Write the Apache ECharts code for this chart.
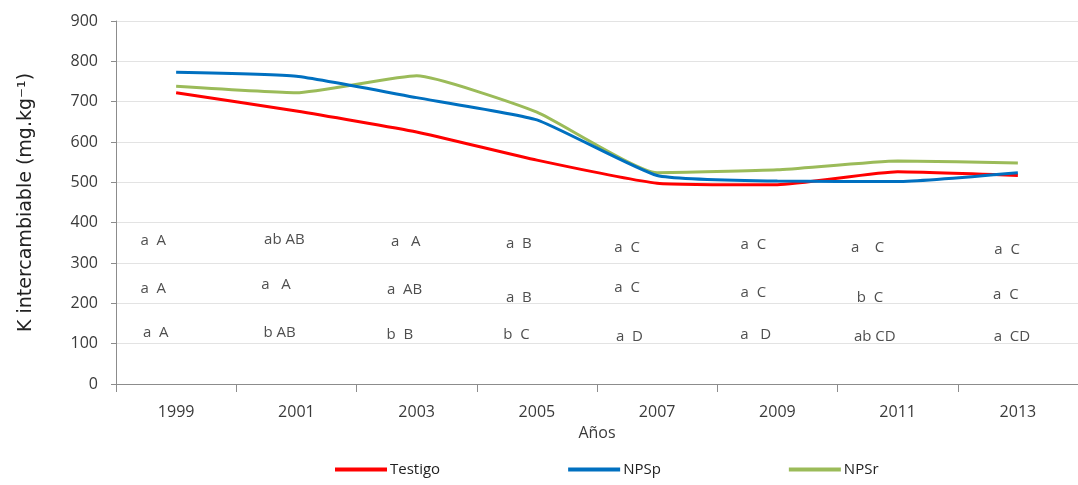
<!DOCTYPE html>
<html>
<head>
<meta charset="utf-8">
<script src="https://cdn.jsdelivr.net/npm/echarts@6/dist/echarts.min.js"></script>
<style>html,body{margin:0;padding:0;background:#fff;}#c{width:1078px;height:485px;}</style>
</head>
<body>
<div id="c"></div>
<script>
const years = ['1999','2001','2003','2005','2007','2009','2011','2013'];
const testigo = [722, 677, 625, 555, 498, 494, 526, 517];
const npsp    = [773, 763, 710, 655, 517, 503, 502, 524];
const npsr    = [738, 722, 764, 674, 524, 531, 553, 548];
const yTicks  = [0, 100, 200, 300, 400, 500, 600, 700, 800, 900];

// letter annotations (text), with their place in axis units (x: category slots, y: value)
const annTopText = ['a  A','ab AB','a   A','a  B','a  C','a  C','a    C','a  C'];
const annTopX    = [0.31, 1.40, 2.41, 3.35, 4.25, 5.30, 6.25, 7.41];
const annTopY    = [355, 357, 352, 347, 337, 345, 337, 332];
const annMidText = ['a  A','a   A','a  AB','a  B','a  C','a  C','b  C','a  C'];
const annMidX    = [0.31, 1.33, 2.40, 3.35, 4.25, 5.30, 6.27, 7.40];
const annMidY    = [236, 245, 233, 213, 238, 226, 213, 221];
const annBotText = ['a  A','b AB','b  B','b  C','a  D','a   D','ab CD','a  CD'];
const annBotX    = [0.33, 1.36, 2.36, 3.33, 4.27, 5.32, 6.31, 7.45];
const annBotY    = [126, 126, 121, 121, 117, 121, 117, 117];

const FONT = 'Open Sans';
const TXT = '#3a3a3a';

function annSeries(texts, xs, ys) {
  return {
    type: 'scatter', xAxisIndex: 1, yAxisIndex: 0,
    symbolSize: 1, itemStyle: {color: 'rgba(0,0,0,0)'},
    silent: true, z: 5,
    data: texts.map((t, i) => ({value: [xs[i], ys[i]], name: t})),
    label: {
      show: true, position: 'inside', formatter: p => p.name,
      color: '#222', fontFamily: FONT, fontSize: 15
    }
  };
}

const lineStyle = c => ({width: 3, color: c});

const chart = echarts.init(document.getElementById('c'), null, {renderer: 'canvas'});
chart.setOption({
  animation: false,
  backgroundColor: '#fff',
  textStyle: {fontFamily: FONT},
  grid: {left: 116, right: -6, top: 21, bottom: 101, containLabel: false},
  legend: {
    bottom: 3, left: 330, itemWidth: 52, itemHeight: 4, itemGap: 128,
    icon: 'rect',
    textStyle: {color: '#222', fontFamily: FONT, fontSize: 15, padding: [0,0,0,-2]},
    data: ['Testigo', 'NPSp', 'NPSr']
  },
  xAxis: [{
    type: 'category', data: years, boundaryGap: true,
    name: 'Años', nameLocation: 'middle', nameGap: 41,
    nameTextStyle: {color: TXT, fontSize: 16, fontFamily: FONT},
    axisLine: {lineStyle: {color: '#8c8c8c', width: 1}},
    axisTick: {show: true, length: 8, lineStyle: {color: '#8c8c8c'}},
    axisLabel: {color: TXT, fontSize: 16, margin: 20, fontFamily: FONT}
  }, {
    type: 'value', min: 0, max: 8, show: false
  }],
  yAxis: {
    type: 'value', min: yTicks[0], max: yTicks[yTicks.length - 1], interval: 100,
    name: 'K intercambiable (mg.kg⁻¹)', nameLocation: 'middle', nameGap: 80,
    nameTextStyle: {color: '#222', fontSize: 19, fontFamily: 'DejaVu Sans'},
    axisLine: {show: true, lineStyle: {color: '#8c8c8c'}},
    axisTick: {show: true, length: 5, lineStyle: {color: '#8c8c8c'}},
    axisLabel: {color: TXT, fontSize: 16, margin: 18, fontFamily: FONT},
    splitLine: {lineStyle: {color: '#e3e3e3', width: 1}}
  },
  series: [
    {name: 'Testigo', type: 'line', data: testigo, smooth: 0.15, showSymbol: false,
     lineStyle: lineStyle('#ff0000'), itemStyle: {color: '#ff0000'}, z: 3},
    {name: 'NPSp', type: 'line', data: npsp, smooth: 0.15, showSymbol: false,
     lineStyle: lineStyle('#0070c0'), itemStyle: {color: '#0070c0'}, z: 4},
    {name: 'NPSr', type: 'line', data: npsr, smooth: 0.15, showSymbol: false,
     lineStyle: lineStyle('#9bbb59'), itemStyle: {color: '#9bbb59'}, z: 2},
    annSeries(annTopText, annTopX, annTopY),
    annSeries(annMidText, annMidX, annMidY),
    annSeries(annBotText, annBotX, annBotY)
  ]
});
</script>
</body>
</html>
